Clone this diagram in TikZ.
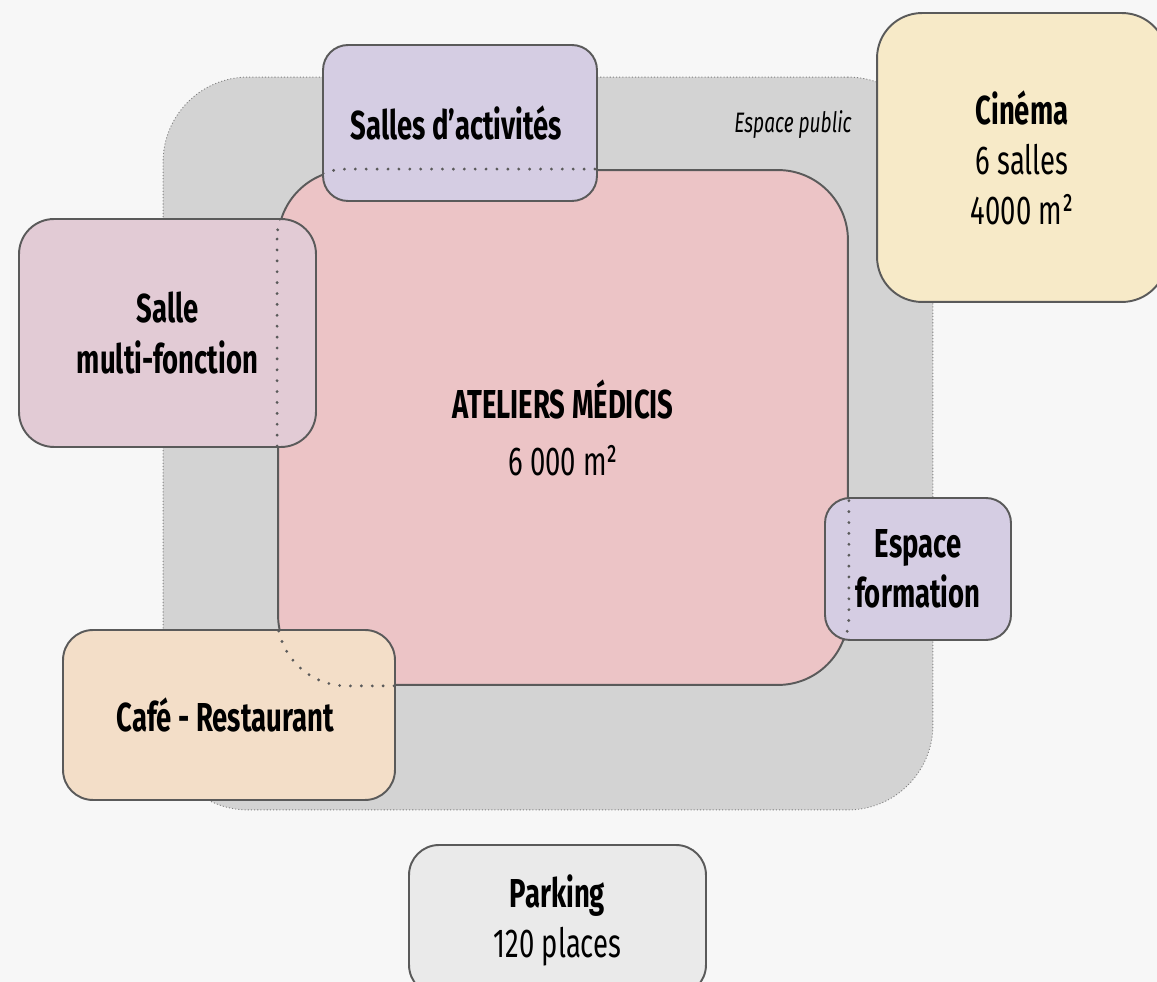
\documentclass[tikz,border=0pt]{standalone}
\usepackage{fontspec}
\setmainfont[FakeStretch=0.68]{Fira Sans}
\usepackage{xcolor}
\usetikzlibrary{backgrounds}
\definecolor{pagegray}{HTML}{F7F7F7}
\definecolor{publicgray}{HTML}{D3D3D3}
\definecolor{edgegray}{HTML}{5A5A5A}
\definecolor{ateliersrose}{HTML}{ECC4C6}
\definecolor{lavender}{HTML}{D5CDE3}
\definecolor{mauve}{HTML}{E2CBD5}
\definecolor{peach}{HTML}{F3DEC8}
\definecolor{cream}{HTML}{F7EAC8}
\definecolor{lightgray}{HTML}{EAEAEA}
\tikzset{
  roombox/.style={
    draw=edgegray,
    line width=1.1pt,
    rounded corners=0.5cm,
    align=center,
    inner sep=0pt,
    font=\fontsize{23pt}{28.5pt}\selectfont
  },
  sideroom/.style={roombox, fill=lavender},
  publiczone/.style={
    draw=gray,
    fill=publicgray,
    line width=0.5pt,
    dash pattern=on 0.6pt off 1.2pt,
    rounded corners=1.7cm,
    inner sep=0pt
  },
  hiddenedge/.style={
    draw=edgegray,
    line width=1.8pt,
    line cap=round,
    dash pattern=on 0pt off 6.2pt,
    rounded corners=1.4cm
  }
}

\begin{document}
\begin{tikzpicture}[x=0.02cm,y=-0.02cm]
    \fill[pagegray] (0,0) rectangle (1157,982);
    \useasboundingbox (0,0) rectangle (1157,982);
    \clip (0,0) rectangle (1157,982);

    % espace public
    \node[publiczone, minimum width=15.4cm, minimum height=14.66cm] (public) at (548,443.5) {};
    \node[font=\fontsize{16pt}{19pt}\selectfont\itshape] (publiclbl) at (793,125) {Espace public};

    % batiment principal
    \node[roombox, fill=ateliersrose, rounded corners=1.4cm,
          minimum width=11.4cm, minimum height=10.3cm] (ateliers) at (563,427.5) {
        \textbf{ATELIERS MÉDICIS}\\[4pt]
        6 000 m²
    };

    % espaces autour
    \node[sideroom, minimum width=5.48cm, minimum height=3.12cm] (activites) at (460,123) {
        \textbf{Salles d’activités}
    };
    \node[roombox, fill=mauve, rounded corners=0.7cm,
          minimum width=5.94cm, minimum height=4.56cm] (multi) at (167.5,333) {
        \textbf{Salle}\\
        \textbf{multi-fonction}
    };
    \node[roombox, fill=peach, rounded corners=0.6cm,
          minimum width=6.64cm, minimum height=3.4cm] (cafe) at (229,715) {
        \textbf{Café - Restaurant}
    };
    \node[sideroom, minimum width=3.72cm, minimum height=2.84cm] (formation) at (918,569) {
        \textbf{Espace}\\
        \textbf{formation}
    };
    \node[roombox, fill=cream, rounded corners=0.9cm,
          minimum width=5.8cm, minimum height=5.78cm] (cinema) at (1022,157.5) {
        \textbf{Cinéma}\\
        6 salles\\
        4000 m²
    };
    \node[roombox, fill=lightgray, rounded corners=0.6cm,
          minimum width=5.94cm, minimum height=3.0cm] (parking) at (557.5,920) {
        \textbf{Parking}\\
        120 places
    };

    % contour cache sous les salles
    \begin{scope}
        \clip (activites.north west) rectangle (activites.south east)
              (multi.north west) rectangle (multi.south east)
              (cafe.north west) rectangle (cafe.south east)
              (formation.north west) rectangle (formation.south east);
        \draw[hiddenedge] (ateliers.north west) rectangle (ateliers.south east);
    \end{scope}
\end{tikzpicture}
\end{document}
